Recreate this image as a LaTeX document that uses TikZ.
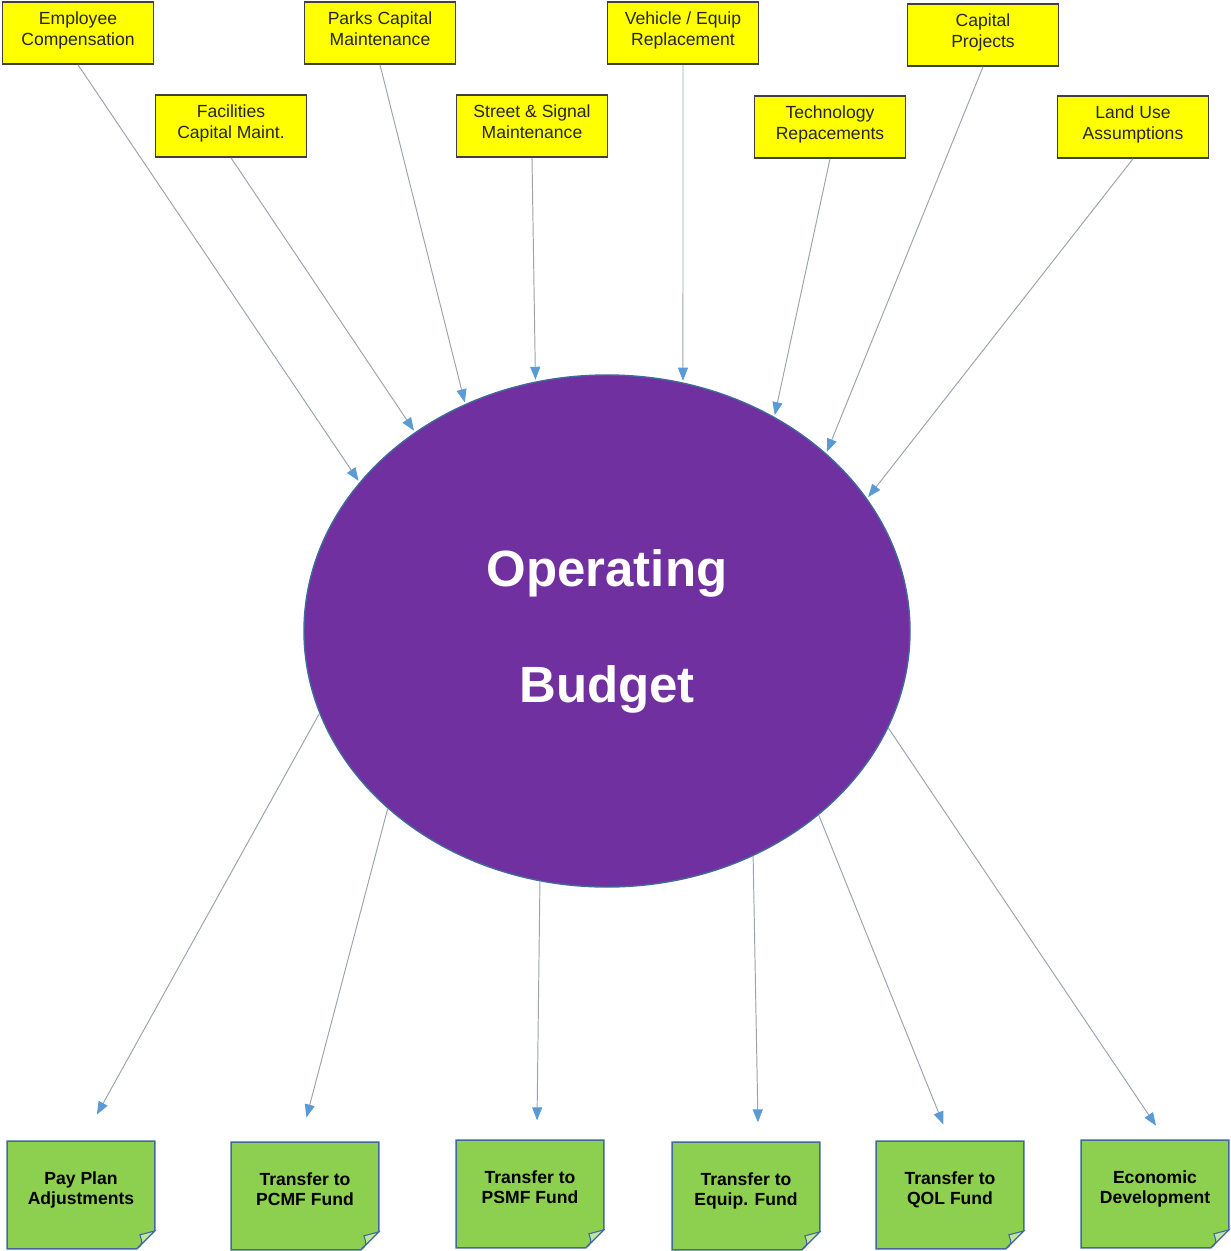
\documentclass[tikz,border=0pt]{standalone}
\usepackage{fontspec}
\setmainfont{Liberation Sans}
\usetikzlibrary{positioning,shapes.geometric,arrows.meta}
\definecolor{boxyellow}{HTML}{FFFF00}
\definecolor{leafgreen}{HTML}{8DCF4F}
\definecolor{budgetpurple}{HTML}{7030A0}
\definecolor{rimblue}{HTML}{41699C}
\definecolor{linegray}{HTML}{9AA3AE}
\definecolor{tipblue}{HTML}{5B9BD5}

\begin{document}
\begin{tikzpicture}[
    input/.style={rectangle, draw=black!75, line width=0.9pt, fill=boxyellow, minimum width=3.02cm, minimum height=1.24cm, align=center, inner sep=1pt, text depth=5pt, font=\fontsize{10}{11.5}\selectfont, text=black!85},
    fund/.style={rectangle, fill=leafgreen, minimum width=2.94cm, minimum height=2.14cm, align=center, inner sep=1pt, text depth=8pt, font=\bfseries\fontsize{10}{11.5}\selectfont},
    flow/.style={draw=linegray, line width=0.55pt, shorten >=1pt, -{Triangle[length=0.26cm, width=0.2cm, color=tipblue]}}
]
  \useasboundingbox (0,0) rectangle (24.62,-25.02);

  % 中心椭圆
  \node[ellipse, draw=rimblue, line width=0.8pt, fill=budgetpurple, minimum width=12.12cm, minimum height=10.24cm,
        text=white, align=center, font=\bfseries\fontsize{29}{66}\selectfont] (ob) at (12.14,-12.62) {Operating\\Budget};

  % 上方输入框
  \node[input] (emp) at (1.56,-0.66) {Employee\\Compensation};
  \node[input] (fac) at (4.62,-2.52) {Facilities\\Capital Maint.};
  \node[input] (parks) at (7.60,-0.66) {Parks Capital\\Maintenance};
  \node[input] (street) at (10.64,-2.52) {Street \& Signal\\Maintenance};
  \node[input] (vehicle) at (13.66,-0.66) {Vehicle / Equip\\Replacement};
  \node[input] (tech) at (16.60,-2.54) {Technology\\Repacements};
  \node[input] (capital) at (19.66,-0.70) {Capital\\Projects};
  \node[input] (land) at (22.66,-2.54) {Land Use\\Assumptions};

  % 下方输出框
  \node[fund] (pay) at (1.62,-23.90) {Pay Plan\\Adjustments};
  \node[fund] (pcmf) at (6.10,-23.92) {Transfer to\\PCMF Fund};
  \node[fund] (psmf) at (10.60,-23.88) {Transfer to\\PSMF Fund};
  \node[fund] (equip) at (14.92,-23.92) {Transfer to\\Equip. Fund};
  \node[fund] (qol) at (19.00,-23.90) {Transfer to\\QOL Fund};
  \node[fund] (econ) at (23.10,-23.88) {Economic\\Development};

  % 折角
  \foreach \n in {pay,pcmf,psmf,equip,qol,econ} {
    \fill[white] ([xshift=-0.36cm]\n.south east) -- (\n.south east) -- ([yshift=0.36cm]\n.south east) -- cycle;
    \draw[rimblue, line width=0.8pt] (\n.north west) -- (\n.north east) -- ([yshift=0.36cm]\n.south east)
      -- ([xshift=-0.36cm]\n.south east) -- (\n.south west) -- cycle;
    \filldraw[fill=leafgreen!55!white, draw=rimblue, line width=0.6pt] ([xshift=-0.36cm]\n.south east)
      .. controls ([xshift=-0.24cm, yshift=0.1cm]\n.south east) .. ([xshift=-0.3cm, yshift=0.28cm]\n.south east)
      -- ([yshift=0.36cm]\n.south east) -- cycle;
  }

  % 箭头
  \foreach \n/\a in {emp/149, fac/134, parks/122, street/106, vehicle/73, tech/52, capital/39, land/27}
    \draw[flow] (\n.south) -- (ob.\a);
  \foreach \n/\a/\dx/\dy in {pay/196/0.30/0.50, pcmf/219/0.02/0.46, psmf/255/0.14/0.36, equip/303/0.24/0.36, qol/319/-0.12/0.30, econ/341/0.04/0.26}
    \draw[flow] (ob.\a) -- ([xshift=\dx cm, yshift=\dy cm]\n.north);
\end{tikzpicture}
\end{document}
